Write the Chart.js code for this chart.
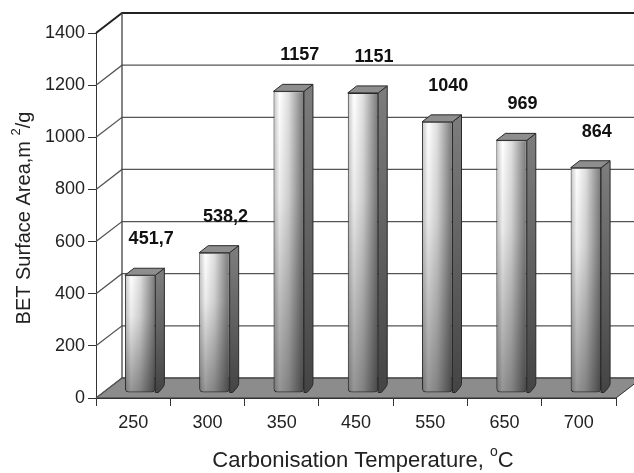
<!DOCTYPE html>
<html>
<head>
<meta charset="utf-8">
<script src="https://cdn.jsdelivr.net/npm/chart.js"></script>
<style>
  body { margin: 0; background: #fff; }
  .chart { width: 634px; height: 473px; }
</style>
</head>
<body>
<div class="chart"><canvas id="bet-chart"></canvas></div>

<script>
  var temperatures = ['250', '300', '350', '450', '550', '650', '700'];
  var surfaceArea = [451.7, 538.2, 1157, 1151, 1040, 969, 864];
  var yTicks = [0, 200, 400, 600, 800, 1000, 1200, 1400];

  var FONT = '"Liberation Sans", Arial, sans-serif';
  var WALL = { dx: 26, dy: -20 };                    // back wall offset from the front plane
  var BAR = { dx: 7, dy: -5, depthX: 9, depthY: -7 }; // bars sit a bit behind the front plane
  var BAR_PCT = 0.41;

  // gradient across the front face of a bar
  function faceGradient(c) {
      var chart = c.chart, xs = chart.scales.x;
      if (!xs || !chart.chartArea) return '#dddddd';
      var cx = xs.getPixelForValue(c.dataIndex);
      var w = xs.width / temperatures.length * BAR_PCT;
      var g = chart.ctx.createLinearGradient(cx - w / 2, 0, cx + w / 2, 0);
      g.addColorStop(0, '#c4c4c4');
      g.addColorStop(0.2, '#ffffff');
      g.addColorStop(0.5, '#dedede');
      g.addColorStop(1, '#777777');
      return g;
  }

  // draws text pieces with superscripts, centred on (0,0)
  function drawParts(ctx, parts, size) {
      var widths = parts.map(function(p) {
          ctx.font = (p.sup ? Math.round(size * 0.65) : size) + 'px ' + FONT;
          return ctx.measureText(p.t).width;
      });
      var total = widths.reduce(function(s, w) { return s + w; }, 0);
      var x = -total / 2;
      ctx.textAlign = 'left';
      ctx.textBaseline = 'middle';
      parts.forEach(function(p, i) {
          ctx.font = (p.sup ? Math.round(size * 0.65) : size) + 'px ' + FONT;
          ctx.fillText(p.t, x, p.sup ? -size * 0.4 : 0);
          x += widths[i];
      });
  }

  var box3d = {
      id: 'box3d',
      beforeDatasetsDraw: function(chart) {
          var ctx = chart.ctx, a = chart.chartArea, ys = chart.scales.y;
          ctx.save();
          // floor
          ctx.beginPath();
          ctx.moveTo(a.left, a.bottom);
          ctx.lineTo(a.right, a.bottom);
          ctx.lineTo(a.right + WALL.dx, a.bottom + WALL.dy);
          ctx.lineTo(a.left + WALL.dx, a.bottom + WALL.dy);
          ctx.closePath();
          ctx.fillStyle = '#8c8c8c';
          ctx.fill();
          ctx.strokeStyle = '#333';
          ctx.lineWidth = 1;
          ctx.stroke();

          // side wall diagonals + back wall gridlines
          yTicks.forEach(function(v) {
              var py = ys.getPixelForValue(v);
              ctx.beginPath();
              ctx.moveTo(a.left, py);
              ctx.lineTo(a.left + WALL.dx, py + WALL.dy);
              ctx.lineTo(chart.width, py + WALL.dy);
              ctx.strokeStyle = v == 1400 ? '#222' : '#555';
              ctx.lineWidth = v == 1400 ? 2 : 1.3;
              ctx.stroke();
          });

          // back wall left edge
          ctx.beginPath();
          ctx.moveTo(a.left + WALL.dx, ys.getPixelForValue(1400) + WALL.dy);
          ctx.lineTo(a.left + WALL.dx, a.bottom + WALL.dy);
          ctx.strokeStyle = '#444';
          ctx.lineWidth = 1.3;
          ctx.stroke();
          ctx.restore();

          ctx.save();
          ctx.translate(BAR.dx, BAR.dy);
      },
      afterDatasetsDraw: function(chart) {
          var ctx = chart.ctx;
          var bars = chart.getDatasetMeta(0).data;
          bars.forEach(function(bar) {
              var l = bar.x - bar.width / 2, r = bar.x + bar.width / 2;
              var t = bar.y, b = bar.base;
              ctx.strokeStyle = '#2a2a2a';
              ctx.lineWidth = 1;
              ctx.lineJoin = 'round';

              // darken the front face towards the floor
              var vg = ctx.createLinearGradient(0, t, 0, b);
              vg.addColorStop(0, 'rgba(0,0,0,0)');
              vg.addColorStop(0.35, 'rgba(0,0,0,0.08)');
              vg.addColorStop(1, 'rgba(0,0,0,0.42)');
              ctx.beginPath();
              ctx.roundRect(l + 0.5, t + 0.5, bar.width - 1, b - t - 1, [0, 0, 4, 4]);
              ctx.fillStyle = vg;
              ctx.fill();

              // side face
              var sg = ctx.createLinearGradient(0, t, 0, b);
              sg.addColorStop(0, '#7c7c7c');
              sg.addColorStop(1, '#444444');
              ctx.beginPath();
              ctx.moveTo(r, t);
              ctx.lineTo(r + BAR.depthX, t + BAR.depthY);
              ctx.lineTo(r + BAR.depthX, b + BAR.depthY - 2);
              ctx.quadraticCurveTo(r + BAR.depthX, b + BAR.depthY + 1, r + 3, b);
              ctx.lineTo(r, b);
              ctx.closePath();
              ctx.fillStyle = sg;
              ctx.fill();
              ctx.stroke();

              // top face
              ctx.beginPath();
              ctx.moveTo(l, t);
              ctx.lineTo(l + BAR.depthX, t + BAR.depthY);
              ctx.lineTo(r + BAR.depthX, t + BAR.depthY);
              ctx.lineTo(r, t);
              ctx.closePath();
              ctx.fillStyle = '#8e8e8e';
              ctx.fill();
              ctx.stroke();
          });

          // value labels
          ctx.fillStyle = '#111';
          ctx.font = 'bold 18px ' + FONT;
          ctx.textAlign = 'center';
          ctx.textBaseline = 'middle';
          bars.forEach(function(bar, i) {
              ctx.fillText(String(surfaceArea[i]).replace('.', ','), bar.x + 11, bar.y - 36);
          });
          ctx.restore();
      },
      afterDraw: function(chart) {
          var ctx = chart.ctx, a = chart.chartArea;
          ctx.save();
          ctx.fillStyle = '#222';
          ctx.translate(24, 218);
          ctx.rotate(-Math.PI / 2);
          drawParts(ctx, [{ t: 'BET Surface Area,m ' }, { t: '2', sup: true }, { t: '/g' }], 20);
          ctx.restore();

          ctx.save();
          ctx.fillStyle = '#222';
          ctx.translate((a.left + a.right) / 2 + 7, 461);
          drawParts(ctx, [{ t: 'Carbonisation Temperature, ' }, { t: 'o', sup: true }, { t: 'C' }], 22);
          ctx.restore();
      }
  };

  new Chart(document.getElementById('bet-chart'), {
      type: 'bar',
      data: {
          labels: temperatures,
          datasets: [
              {
                  label: 'BET Surface Area',
                  data: surfaceArea,
                  backgroundColor: faceGradient,
                  borderColor: '#2a2a2a',
                  borderWidth: 1,
                  borderSkipped: false,
                  borderRadius: { topLeft: 0, topRight: 0, bottomLeft: 4, bottomRight: 4 },
                  categoryPercentage: 1,
                  barPercentage: BAR_PCT
              }
          ]
      },
      options: {
          responsive: true,
          maintainAspectRatio: false,
          animation: false,
          layout: { padding: { left: 0, right: 18, top: 33, bottom: 0 } },
          plugins: {
              legend: { display: false },
              tooltip: { enabled: false },
              title: { display: false }
          },
          scales: {
              x: {
                  offset: true,
                  grid: { offset: true, drawOnChartArea: false, drawTicks: true, tickLength: 8, color: '#333' },
                  border: { display: true, color: '#333' },
                  ticks: { font: { family: FONT, size: 18 }, color: '#222', padding: 6, maxRotation: 0 },
                  afterFit: function(scale) { scale.height = 75; }
              },
              y: {
                  min: 0,
                  max: 1400,
                  ticks: {
                      stepSize: 200,
                      font: { family: FONT, size: 18 },
                      color: '#222',
                      padding: 3,
                      callback: function(v) { return String(v); }
                  },
                  grid: { drawOnChartArea: false, drawTicks: true, tickLength: 8, color: '#333' },
                  border: { display: true, color: '#333' },
                  afterFit: function(scale) { scale.width = 96; }
              }
          }
      },
      plugins: [box3d]
  });
</script>
</body>
</html>
